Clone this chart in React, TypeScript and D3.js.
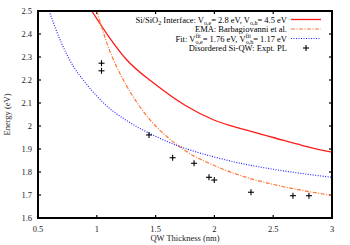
import React from "react";
import * as d3 from "d3";

const xTicks = [0.5, 1, 1.5, 2, 2.5, 3];
const yTicks = [1.6, 1.7, 1.8, 1.9, 2.0, 2.1, 2.2, 2.3, 2.4, 2.5];

const interfaceD = [0.957, 1.1, 1.25, 1.5, 1.75, 2.0, 2.25, 2.5, 2.75, 3.0];
const interfaceE = [2.5, 2.39, 2.29, 2.18, 2.09, 2.025, 1.985, 1.95, 1.915, 1.886];

const emaD = [1.0, 1.1, 1.2, 1.3, 1.4, 1.5, 1.6, 1.75, 2.0, 2.25, 2.5, 2.75, 3.0];
const emaE = [2.5, 2.34, 2.225, 2.135, 2.06, 2.0, 1.952, 1.893, 1.828, 1.78, 1.746, 1.72, 1.698];

const fitD = [0.595, 0.7, 0.8, 0.9, 1.0, 1.1, 1.25, 1.5, 1.75, 2.0, 2.25, 2.5, 2.75, 3.0];
const fitE = [2.5, 2.36, 2.26, 2.19, 2.13, 2.08, 2.025, 1.955, 1.903, 1.865, 1.835, 1.812, 1.793, 1.777];

const exptD = [1.04, 1.04, 1.444, 1.645, 1.827, 1.954, 1.999, 2.311, 2.668, 2.804];
const exptE = [2.273, 2.24, 1.961, 1.862, 1.838, 1.777, 1.765, 1.712, 1.697, 1.697];

const W = 350, H = 245;
const L = 38, R = 332, T = 11, B = 218;
const FONT = "'Liberation Serif', 'Times New Roman', serif";

export default function App() {
  const x = d3.scaleLinear().domain([0.5, 3]).range([L, R]);
  const y = d3.scaleLinear().domain([1.6, 2.5]).range([B, T]);
  const line = d3.line<[number, number]>().x(d => x(d[0])).y(d => y(d[1])).curve(d3.curveMonotoneX);
  const zip = (a: number[], b: number[]) => a.map((v, i) => [v, b[i]] as [number, number]);

  const fs = 8.5;
  const sub = 6;
  const legX = 287;
  const sampleX0 = 291, sampleX1 = 321;
  const rows = [22.5, 32, 41.5, 51];

  return (
    <svg width={W} height={H} style={{ position: "absolute", left: 0, top: 0 }} fontFamily={FONT}>
      <defs>
        <clipPath id="plotclip">
          <rect x={L} y={T} width={R - L} height={B - T} />
        </clipPath>
      </defs>
      <rect width={W} height={H} fill="#fff" />
      {xTicks.map(t => (
        <g key={"xt" + t}>
          <line x1={x(t)} x2={x(t)} y1={B} y2={B - 3} stroke="#000" strokeWidth={1.2} />
          <line x1={x(t)} x2={x(t)} y1={T} y2={T + 3} stroke="#000" strokeWidth={1.2} />
          <text x={x(t)} y={B + 14} fontSize={fs} textAnchor="middle" fill="#222">{t}</text>
        </g>
      ))}
      {yTicks.map(t => (
        <g key={"yt" + t}>
          <line x1={L} x2={L + 3} y1={y(t)} y2={y(t)} stroke="#000" strokeWidth={1.2} />
          <line x1={R} x2={R - 3} y1={y(t)} y2={y(t)} stroke="#000" strokeWidth={1.2} />
          <text x={32} y={y(t) + 3} fontSize={fs} textAnchor="end" fill="#222">{d3.format(".1f")(t).replace(/\.0$/, "")}</text>
        </g>
      ))}
      <g clipPath="url(#plotclip)">
        <path d={line(zip(interfaceD, interfaceE)) || ""} fill="none" stroke="#ff1a1a" strokeWidth={1.3} />
        <path d={line(zip(emaD, emaE)) || ""} fill="none" stroke="#ff7733" strokeWidth={1.2} strokeDasharray="4,1.5,1,1.5" />
        <path d={line(zip(fitD, fitE)) || ""} fill="none" stroke="#2a2aff" strokeWidth={1.2} strokeDasharray="1,1.5" />
      </g>
      {exptD.map((d, i) => (
        <g key={"p" + i} stroke="#000" strokeWidth={1.1}>
          <line x1={x(d) - 3} x2={x(d) + 3} y1={y(exptE[i])} y2={y(exptE[i])} />
          <line x1={x(d)} x2={x(d)} y1={y(exptE[i]) - 3} y2={y(exptE[i]) + 3} />
        </g>
      ))}
      <rect x={L} y={T} width={R - L} height={B - T} fill="none" stroke="#000" strokeWidth={2} />
      <text x={legX} y={rows[0]} fontSize={fs} textAnchor="end" fill="#000">
        Si/SiO<tspan fontSize={sub} dy={2}>2</tspan>
        <tspan dy={-2}> Interface: V</tspan>
        <tspan fontSize={sub} dy={2}>o,e</tspan>
        <tspan dy={-2}>= 2.8 eV, V</tspan>
        <tspan fontSize={sub} dy={2}>o,h</tspan>
        <tspan dy={-2}>= 4.5 eV</tspan>
      </text>
      <line x1={sampleX0} x2={sampleX1} y1={rows[0] - 3} y2={rows[0] - 3} stroke="#ff1a1a" strokeWidth={1.3} />
      <text x={legX} y={rows[1]} fontSize={fs} textAnchor="end" fill="#000">EMA: Barbagiovanni et al.</text>
      <line x1={sampleX0} x2={sampleX1} y1={rows[1] - 3} y2={rows[1] - 3} stroke="#ff7733" strokeWidth={1.2} strokeDasharray="4,1.5,1,1.5" />
      <text x={legX} y={rows[2]} fontSize={fs} textAnchor="end" fill="#000">
        Fit: V<tspan fontSize={sub} dy={-3.5}>fit</tspan>
        <tspan fontSize={sub} dx={-5.3} dy={5.5}>o,e</tspan>
        <tspan dy={-2}>= 1.76 eV, V</tspan>
        <tspan fontSize={sub} dy={-3.5}>fit</tspan>
        <tspan fontSize={sub} dx={-5.3} dy={5.5}>o,h</tspan>
        <tspan dy={-2}>= 1.17 eV</tspan>
      </text>
      <line x1={sampleX0} x2={sampleX1} y1={rows[2] - 3} y2={rows[2] - 3} stroke="#2a2aff" strokeWidth={1.2} strokeDasharray="1,1.5" />
      <text x={legX} y={rows[3]} fontSize={fs} textAnchor="end" fill="#000">Disordered Si-QW: Expt. PL</text>
      <g stroke="#000" strokeWidth={1.1}>
        <line x1={306 - 3} x2={306 + 3} y1={rows[3] - 3} y2={rows[3] - 3} />
        <line x1={306} x2={306} y1={rows[3] - 6} y2={rows[3]} />
      </g>
      <text x={185} y={241} fontSize={fs} textAnchor="middle" fill="#222">QW Thickness (nm)</text>
      <text transform={`translate(10,${(T + B) / 2}) rotate(-90)`} fontSize={fs} textAnchor="middle" fill="#222">Energy (eV)</text>
    </svg>
  );
}
